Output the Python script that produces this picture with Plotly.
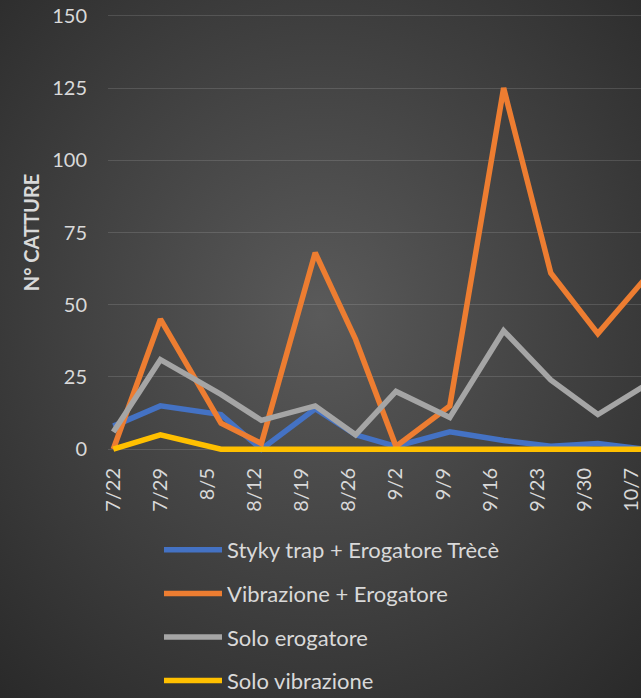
import base64
import pandas as pd
import plotly.graph_objects as go

# ---- data ----
dates = ["2019-07-22", "2019-07-29", "2019-08-07", "2019-08-13", "2019-08-21", "2019-08-27",
         "2019-09-02", "2019-09-10", "2019-09-18", "2019-09-25", "2019-10-02", "2019-10-09"]
styky_trap = [8, 15, 12, 0, 14, 5, 1, 6, 3, 1, 2, 0]
vibrazione_erogatore = [0, 45, 9, 2, 68, 38, 1, 15, 125, 61, 40, 59]
solo_erogatore = [6, 31, 19, 10, 15, 5, 20, 11, 41, 24, 12, 22]
solo_vibrazione = [0, 5, 0, 0, 0, 0, 0, 0, 0, 0, 0, 0]
series_names = ["Styky trap + Erogatore Trècè", "Vibrazione + Erogatore",
                "Solo erogatore", "Solo vibrazione"]
series_colors = ["#4472C4", "#ED7D31", "#A5A5A5", "#FFC000"]
y_title = "N° CATTURE"

# ---- geometry ----
W, H = 641, 698
L, R, T, B = 108, 0, 10, 243
pw, ph = W - L - R, H - T - B
px_per_day = 6.73
first = pd.Timestamp(dates[0])
x0 = first - pd.Timedelta(days=5.3 / px_per_day)
x1 = x0 + pd.Timedelta(days=pw / px_per_day)
fmt = "%Y-%m-%d %H:%M:%S"

FONT = "Lato"
TXT = "#d9d9d9"

fig = go.Figure()
for name, vals, col in zip(series_names,
                           [styky_trap, vibrazione_erogatore, solo_erogatore, solo_vibrazione],
                           series_colors):
    fig.add_trace(go.Scatter(x=dates, y=vals, mode="lines", name=name, legendgroup=name,
                             line=dict(color=col, width=5.5)))

svg = (f'<svg xmlns="http://www.w3.org/2000/svg" width="{W}" height="{H}">'
       '<defs><radialGradient id="g" cx="50%" cy="45%" r="75%">'
       '<stop offset="0" stop-color="#5a5a5a"/><stop offset="1" stop-color="#292929"/>'
       '</radialGradient></defs>'
       f'<rect width="{W}" height="{H}" fill="url(#g)"/></svg>')
src = "data:image/svg+xml;base64," + base64.b64encode(svg.encode()).decode()

fig.update_layout(
    width=W, height=H,
    margin=dict(l=L, r=R, t=T, b=B, pad=0, autoexpand=False),
    paper_bgcolor="#3a3a3a",
    plot_bgcolor="rgba(0,0,0,0)",
    font=dict(family=FONT, color=TXT, size=20),
    images=[dict(source=src, xref="paper", yref="paper", x=-L / pw, y=1 + T / ph,
                 sizex=W / pw, sizey=H / ph, xanchor="left", yanchor="top",
                 sizing="stretch", layer="below")],
    xaxis=dict(type="date", range=[x0.strftime(fmt), x1.strftime(fmt)], tick0=dates[0],
               dtick=7 * 86400000, tickformat="%-m/%-d", tickangle=-90, showgrid=False,
               zeroline=False, showline=False, ticks="", ticklabelstandoff=8,
               ticklabeloverflow="allow", automargin=False,
               tickfont=dict(family=FONT, size=20, color=TXT)),
    yaxis=dict(range=[-2, 152], tick0=0, dtick=25, showgrid=True,
               gridcolor="rgba(255,255,255,0.13)", gridwidth=1, zeroline=False,
               showline=False, ticks="", ticklabelstandoff=20, automargin=False,
               tickfont=dict(family=FONT, size=20, color=TXT),
               title=dict(text=y_title, standoff=7,
                          font=dict(family=FONT, size=20, color=TXT, weight="bold"))),
    showlegend=True,
    legend=dict(orientation="v", xref="paper", yref="paper",
                x=(159 - L) / pw, y=(T + ph - 529) / ph, xanchor="left", yanchor="top",
                bgcolor="rgba(0,0,0,0)", font=dict(family=FONT, size=22, color=TXT),
                tracegroupgap=12, itemwidth=58),
)

fig.write_html("out.html", post_script="document.body.style.margin='0';",
               config={"displayModeBar": False})
